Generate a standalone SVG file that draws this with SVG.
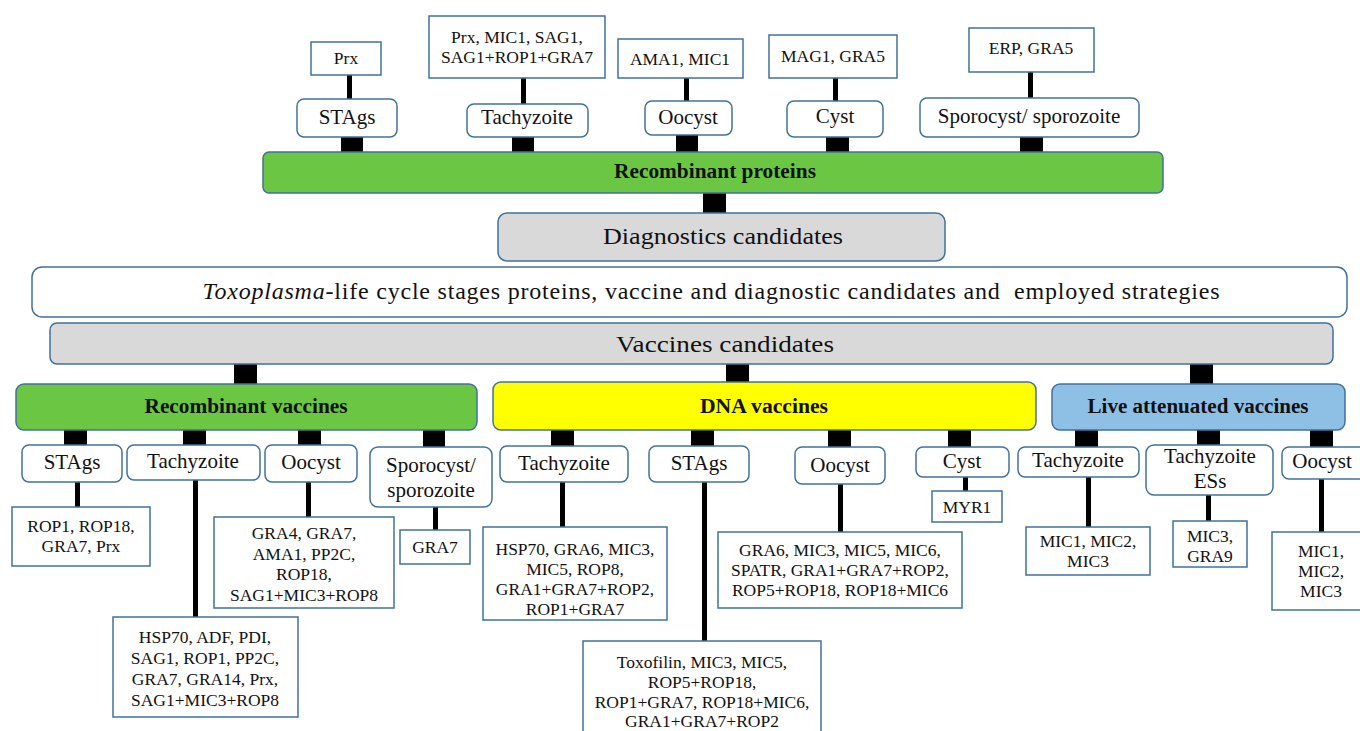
<svg xmlns="http://www.w3.org/2000/svg" width="1360" height="731" viewBox="0 0 1360 731">
<style>
.bx{fill:#fff;stroke:#41719c;stroke-width:1.5}
.gr{fill:#6bc743;stroke:#41719c;stroke-width:1.5}
.gy{fill:#d9d9d9;stroke:#41719c;stroke-width:1.5}
.yl{fill:#ffff00;stroke:#41719c;stroke-width:1.5}
.bl{fill:#8ebfe4;stroke:#41719c;stroke-width:1.5}
text{font-family:"Liberation Serif","Times New Roman",serif;fill:#111;text-anchor:middle}
.t{font-size:17.5px}
.s{font-size:21px}
.h{font-size:20px;font-weight:bold}
.b{font-size:24px}
.c rect{fill:#000}
</style>
<rect width="1360" height="731" fill="#fff"/>
<g id="connectors" class="c">
<rect x="347" y="75" width="5" height="24"/>
<rect x="341" y="137" width="22" height="15"/>
<rect x="521" y="78" width="5" height="26"/>
<rect x="512" y="137" width="22" height="15"/>
<rect x="684" y="78" width="5" height="23"/>
<rect x="676" y="135" width="22" height="17"/>
<rect x="833" y="78" width="5" height="23"/>
<rect x="826" y="137" width="23" height="15"/>
<rect x="1028" y="72" width="5" height="26"/>
<rect x="1020" y="137" width="23" height="15"/>
<rect x="703" y="193" width="23" height="20"/>
<rect x="234" y="364" width="23" height="20"/>
<rect x="726" y="364" width="23" height="18"/>
<rect x="1190" y="364" width="23" height="20"/>
<rect x="64" y="430" width="23" height="15"/>
<rect x="183" y="430" width="23" height="15"/>
<rect x="298" y="430" width="23" height="15"/>
<rect x="423" y="430" width="22" height="17"/>
<rect x="75" y="482" width="5" height="25"/>
<rect x="193" y="480" width="5" height="137"/>
<rect x="306" y="482" width="5" height="35"/>
<rect x="433" y="507" width="5" height="23"/>
<rect x="551" y="430" width="23" height="16"/>
<rect x="691" y="430" width="23" height="16"/>
<rect x="828" y="430" width="23" height="17"/>
<rect x="948" y="430" width="23" height="17"/>
<rect x="560" y="482" width="5" height="45"/>
<rect x="702" y="482" width="5" height="159"/>
<rect x="838" y="484" width="5" height="48"/>
<rect x="963" y="477" width="5" height="14"/>
<rect x="1075" y="430" width="23" height="17"/>
<rect x="1197" y="430" width="23" height="15"/>
<rect x="1310" y="430" width="23" height="17"/>
<rect x="1086" y="477" width="5" height="50"/>
<rect x="1206" y="495" width="5" height="26"/>
<rect x="1319" y="479" width="5" height="53"/>
</g>
<g id="n-prx-top"><rect class="bx" x="311" y="42" width="70" height="33"/><text class="t" x="346" y="64">Prx</text></g>
<g id="n-stags-top"><rect class="bx" x="297" y="99" width="100" height="38" rx="7"/><text class="s" x="347" y="124">STAgs</text></g>
<g id="n-tachy-top-list"><rect class="bx" x="429" y="16" width="176" height="62"/><text class="t" x="517" y="43">Prx, MIC1, SAG1,</text><text class="t" x="517" y="63">SAG1+ROP1+GRA7</text></g>
<g id="n-tachy-top"><rect class="bx" x="467" y="104" width="121" height="33" rx="7"/><text class="s" x="527" y="124">Tachyzoite</text></g>
<g id="n-ama1"><rect class="bx" x="618" y="39" width="125" height="39"/><text class="t" x="680" y="65">AMA1, MIC1</text></g>
<g id="n-oocyst-top"><rect class="bx" x="645" y="101" width="87" height="34" rx="7"/><text class="s" x="688" y="124">Oocyst</text></g>
<g id="n-mag1"><rect class="bx" x="769" y="35" width="128" height="43"/><text class="t" x="833" y="62">MAG1, GRA5</text></g>
<g id="n-cyst-top"><rect class="bx" x="787" y="101" width="96" height="36" rx="7"/><text class="s" x="835" y="123">Cyst</text></g>
<g id="n-erp"><rect class="bx" x="969" y="28" width="125" height="44"/><text class="t" x="1031" y="54">ERP, GRA5</text></g>
<g id="n-sporo-top"><rect class="bx" x="920" y="98" width="219" height="39" rx="7"/><text class="s" x="1029" y="123">Sporocyst/ sporozoite</text></g>
<g id="n-recomb-proteins"><rect class="gr" x="263" y="152" width="900" height="41" rx="6"/><text class="h" x="715" y="178" textLength="202" lengthAdjust="spacingAndGlyphs">Recombinant proteins</text></g>
<g id="n-diagnostics"><rect class="gy" x="498" y="213" width="447" height="48" rx="9"/><text class="b" x="723" y="244" textLength="240" lengthAdjust="spacingAndGlyphs">Diagnostics candidates</text></g>
<g id="n-title"><rect class="bx" x="32" y="267" width="1315" height="50" rx="10"/><text class="b" x="711" y="299" textLength="1017" lengthAdjust="spacing" xml:space="preserve"><tspan font-style="italic">Toxoplasma</tspan>-life cycle stages proteins, vaccine and diagnostic candidates and  employed strategies</text></g>
<g id="n-vaccines"><rect class="gy" x="50" y="323" width="1283" height="41" rx="7"/><text class="b" x="725" y="352" textLength="218" lengthAdjust="spacingAndGlyphs">Vaccines candidates</text></g>
<g id="n-recomb-vacc"><rect class="gr" x="16" y="384" width="461" height="46" rx="8"/><text class="h" x="246" y="413" textLength="203" lengthAdjust="spacingAndGlyphs">Recombinant vaccines</text></g>
<g id="n-dna-vacc"><rect class="yl" x="493" y="382" width="543" height="48" rx="8"/><text class="h" x="764" y="413" textLength="128" lengthAdjust="spacingAndGlyphs">DNA vaccines</text></g>
<g id="n-live-vacc"><rect class="bl" x="1052" y="384" width="293" height="46" rx="8"/><text class="h" x="1198" y="413" textLength="221" lengthAdjust="spacingAndGlyphs">Live attenuated vaccines</text></g>
<g id="n-rv-stags"><rect class="bx" x="22" y="445" width="100" height="37" rx="7"/><text class="s" x="72" y="469">STAgs</text></g>
<g id="n-rv-tachy"><rect class="bx" x="127" y="445" width="133" height="35" rx="7"/><text class="s" x="193" y="468">Tachyzoite</text></g>
<g id="n-rv-oocyst"><rect class="bx" x="265" y="445" width="92" height="37" rx="7"/><text class="s" x="311" y="469">Oocyst</text></g>
<g id="n-rv-sporo"><rect class="bx" x="370" y="447" width="122" height="60" rx="8"/><text class="s" x="431" y="472">Sporocyst/</text><text class="s" x="431" y="497">sporozoite</text></g>
<g id="n-rv-stags-list"><rect class="bx" x="12" y="507" width="138" height="59"/><text class="t" x="81" y="532">ROP1, ROP18,</text><text class="t" x="81" y="552">GRA7, Prx</text></g>
<g id="n-rv-tachy-list"><rect class="bx" x="113" y="617" width="185" height="100"/><text class="t" x="205" y="643">HSP70, ADF, PDI,</text><text class="t" x="205" y="664">SAG1, ROP1, PP2C,</text><text class="t" x="205" y="685">GRA7, GRA14, Prx,</text><text class="t" x="205" y="706">SAG1+MIC3+ROP8</text></g>
<g id="n-rv-oocyst-list"><rect class="bx" x="214" y="517" width="180" height="91"/><text class="t" x="304" y="539">GRA4, GRA7,</text><text class="t" x="304" y="560">AMA1, PP2C,</text><text class="t" x="304" y="580">ROP18,</text><text class="t" x="304" y="601">SAG1+MIC3+ROP8</text></g>
<g id="n-rv-sporo-list"><rect class="bx" x="400" y="530" width="70" height="34"/><text class="t" x="435" y="553">GRA7</text></g>
<g id="n-dna-tachy"><rect class="bx" x="500" y="446" width="128" height="36" rx="7"/><text class="s" x="564" y="470">Tachyzoite</text></g>
<g id="n-dna-stags"><rect class="bx" x="649" y="446" width="100" height="36" rx="7"/><text class="s" x="699" y="470">STAgs</text></g>
<g id="n-dna-oocyst"><rect class="bx" x="795" y="447" width="90" height="37" rx="7"/><text class="s" x="840" y="472">Oocyst</text></g>
<g id="n-dna-cyst"><rect class="bx" x="916" y="447" width="93" height="30" rx="7"/><text class="s" x="962" y="468">Cyst</text></g>
<g id="n-dna-tachy-list"><rect class="bx" x="483" y="527" width="184" height="93"/><text class="t" x="575" y="555">HSP70, GRA6, MIC3,</text><text class="t" x="575" y="575">MIC5, ROP8,</text><text class="t" x="575" y="595">GRA1+GRA7+ROP2,</text><text class="t" x="575" y="615">ROP1+GRA7</text></g>
<g id="n-dna-stags-list"><rect class="bx" x="583" y="641" width="238" height="95"/><text class="t" x="702" y="668">Toxofilin, MIC3, MIC5,</text><text class="t" x="702" y="688">ROP5+ROP18,</text><text class="t" x="702" y="708">ROP1+GRA7, ROP18+MIC6,</text><text class="t" x="702" y="727">GRA1+GRA7+ROP2</text></g>
<g id="n-dna-oocyst-list"><rect class="bx" x="718" y="532" width="244" height="76"/><text class="t" x="840" y="556">GRA6, MIC3, MIC5, MIC6,</text><text class="t" x="840" y="576">SPATR, GRA1+GRA7+ROP2,</text><text class="t" x="840" y="596">ROP5+ROP18, ROP18+MIC6</text></g>
<g id="n-dna-cyst-list"><rect class="bx" x="932" y="491" width="70" height="31"/><text class="t" x="967" y="513">MYR1</text></g>
<g id="n-la-tachy"><rect class="bx" x="1018" y="447" width="121" height="30" rx="7"/><text class="s" x="1078" y="467">Tachyzoite</text></g>
<g id="n-la-ess"><rect class="bx" x="1146" y="445" width="127" height="50" rx="8"/><text class="s" x="1210" y="463">Tachyzoite</text><text class="s" x="1210" y="488">ESs</text></g>
<g id="n-la-oocyst"><rect class="bx" x="1282" y="447" width="90" height="32" rx="7"/><text class="s" x="1322" y="468">Oocyst</text></g>
<g id="n-la-tachy-list"><rect class="bx" x="1026" y="527" width="124" height="48"/><text class="t" x="1088" y="547">MIC1, MIC2,</text><text class="t" x="1088" y="567">MIC3</text></g>
<g id="n-la-ess-list"><rect class="bx" x="1173" y="521" width="74" height="46"/><text class="t" x="1210" y="542">MIC3,</text><text class="t" x="1210" y="562">GRA9</text></g>
<g id="n-la-oocyst-list"><rect class="bx" x="1272" y="532" width="100" height="78"/><text class="t" x="1321" y="557">MIC1,</text><text class="t" x="1321" y="577">MIC2,</text><text class="t" x="1321" y="597">MIC3</text></g>
</svg>
